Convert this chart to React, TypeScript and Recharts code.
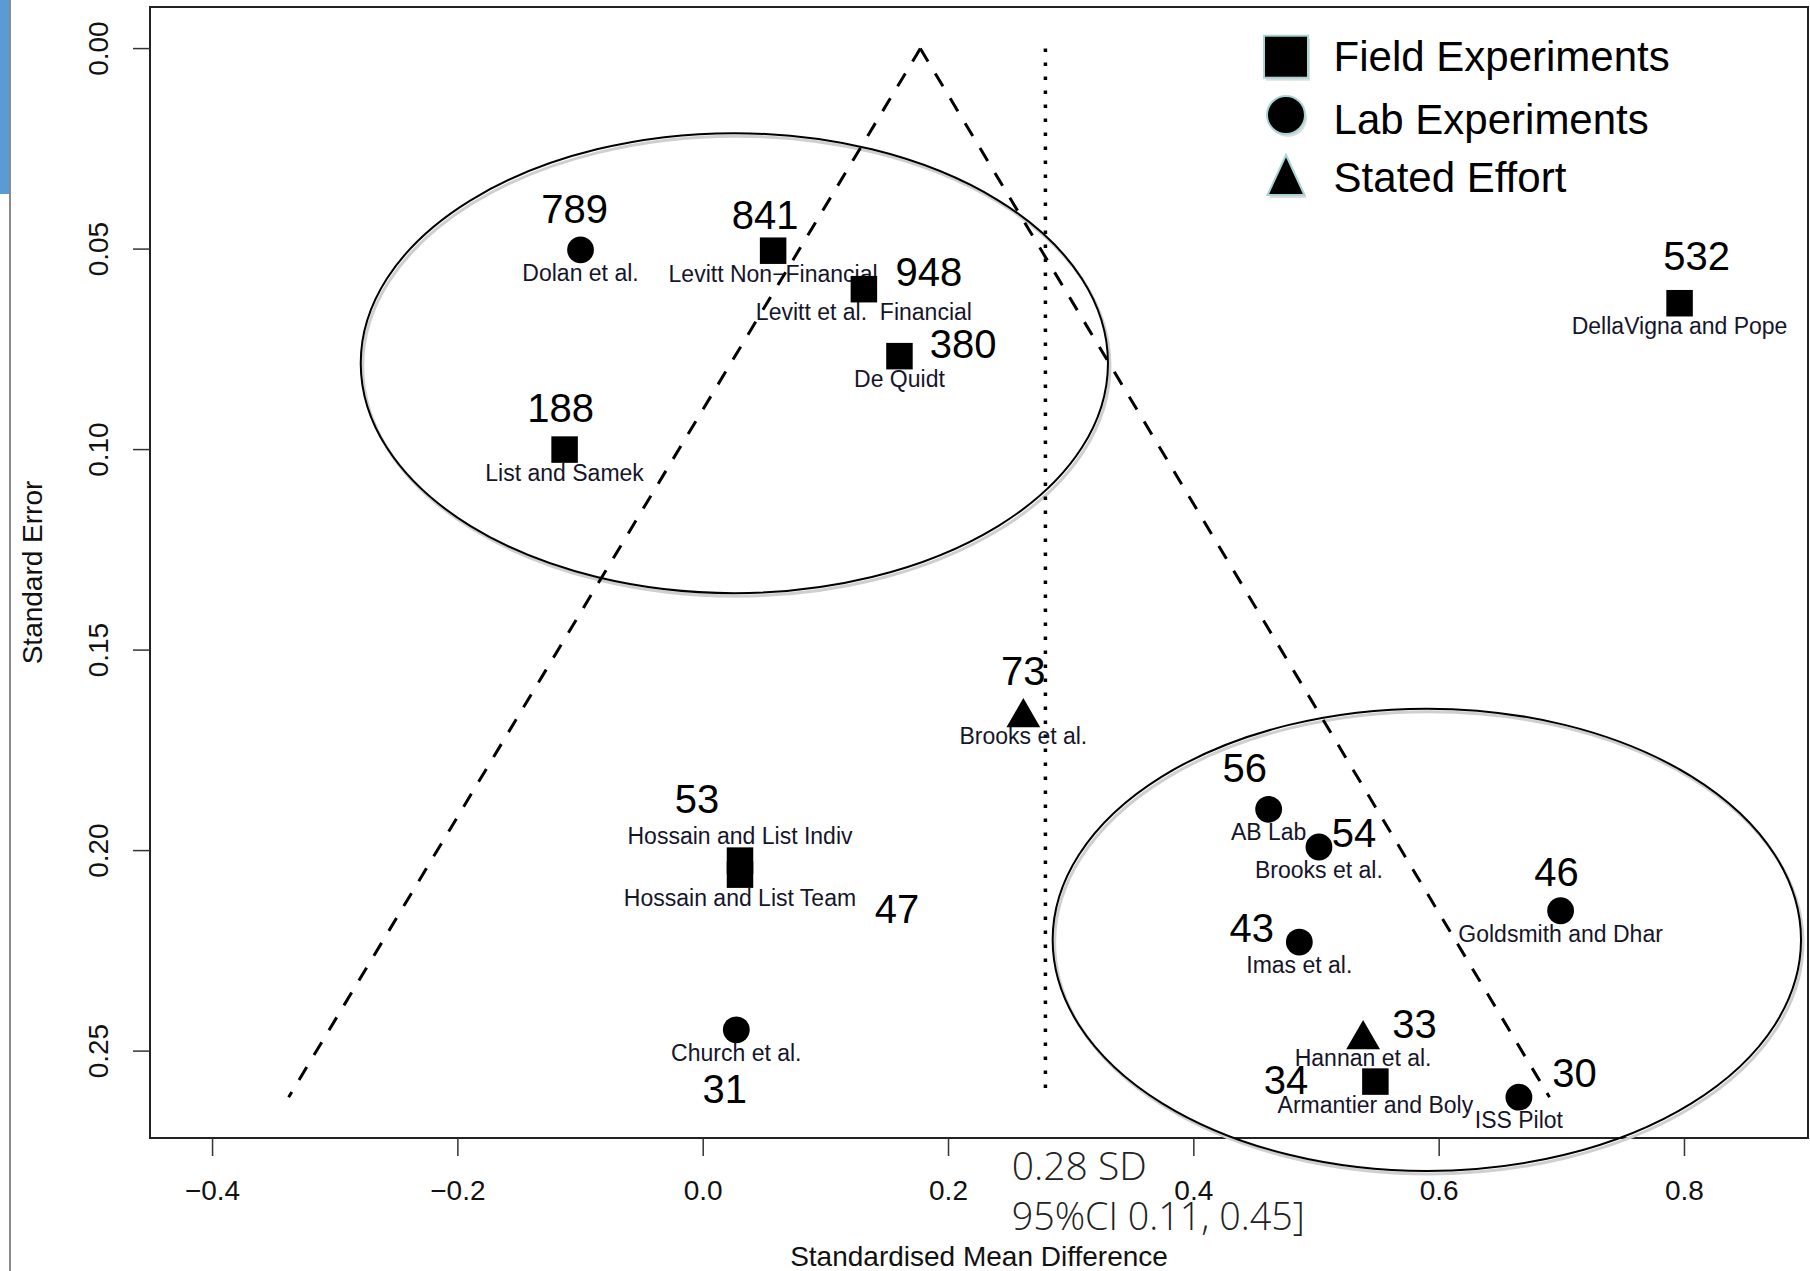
import React from "react";
import { ScatterChart, Scatter, XAxis, YAxis, ReferenceLine, ReferenceArea } from "recharts";

// ---------- data ----------
const studies = [
  "Dolan et al.",
  "Levitt Non\u2212Financial",
  "Levitt et al.  Financial",
  "De Quidt",
  "List and Samek",
  "DellaVigna and Pope",
  "Brooks et al.",
  "Hossain and List Indiv",
  "Hossain and List Team",
  "Church et al.",
  "AB Lab",
  "Brooks et al.",
  "Goldsmith and Dhar",
  "Imas et al.",
  "Hannan et al.",
  "Armantier and Boly",
  "ISS Pilot",
];
const designType = [
  "lab", "field", "field", "field", "field", "field", "stated", "field", "field",
  "lab", "lab", "lab", "lab", "lab", "stated", "field", "lab",
];
const smd = [
  -0.100, 0.057, 0.131, 0.160, -0.113, 0.796, 0.261, 0.030, 0.030,
  0.027, 0.461, 0.502, 0.699, 0.486, 0.538, 0.548, 0.665,
];
const stdErr = [
  0.0502, 0.0504, 0.0600, 0.0767, 0.1000, 0.0635, 0.1656, 0.2025, 0.2060,
  0.2447, 0.1897, 0.1991, 0.2150, 0.2228, 0.2459, 0.2576, 0.2615,
];
const sampleSize = [789, 841, 948, 380, 188, 532, 73, 53, 47, 31, 56, 54, 46, 43, 33, 34, 30];

const xTicks = [-0.4, -0.2, 0.0, 0.2, 0.4, 0.6, 0.8];
const yTicks = [0.0, 0.05, 0.1, 0.15, 0.2, 0.25];

// funnel (dashed) and pooled estimate (dotted)
const funnelApex = { x: 0.177, y: 0 };
const funnelLeft = { x: -0.338, y: 0.2615 };
const funnelRight = { x: 0.690, y: 0.2615 };
const pooledEstimate = 0.279;
const pooledMaxSE = 0.2615;

// highlight ellipses (bounding boxes in data units)
const ellipseX1 = [-0.2792, 0.2849];
const ellipseX2 = [0.3300, 0.8950];
const ellipseY1 = [0.0211, 0.1646];
const ellipseY2 = [0.1358, 0.2799];

// ---------- layout / style (kept apart from data) ----------
const labelSide = [
  "below", "below", "below", "below", "below", "below", "below", "above", "below",
  "below", "below", "below", "below", "below", "below", "below", "below",
];
const nLabelOffset: [number, number][] = [
  [-6, -27], [-8, -21.5], [65, -3], [63.6, 1.4], [-4, -28], [17, -33], [0, -27.5],
  [-43, -47.3], [157, 48.3], [-11.5, 72.7], [-24, -27.5], [35, 0], [-4, -25],
  [-47.5, 0], [51.4, 3.6], [-89.3, 12.3], [55.6, -10.5],
];

const W = 1810;
const H = 1271;
const MARGIN = { top: 7, right: 2, bottom: 73, left: 0 };
const Y_AXIS_W = 150;
const X_AXIS_H = 60;
const PLOT_BOTTOM = H - MARGIN.bottom - X_AXIS_H;
const PLOT_TOP = MARGIN.top;
const PLOT_LEFT = MARGIN.left + Y_AXIS_W;
const PLOT_RIGHT = W - MARGIN.right;
const FONT = "'Liberation Sans', Arial, Helvetica, sans-serif";

const X_DOMAIN: [number, number] = [-0.451, 0.9007];
const Y_DOMAIN: [number, number] = [-0.01037, 0.27167];

const points = studies.map((s, i) => ({
  x: smd[i],
  y: stdErr[i],
  study: s,
  type: designType[i],
  n: sampleSize[i],
  side: labelSide[i],
  ndx: nLabelOffset[i][0],
  ndy: nLabelOffset[i][1],
}));
const fieldPts = points.filter((p) => p.type === "field");
const labPts = points.filter((p) => p.type === "lab");
const statedPts = points.filter((p) => p.type === "stated");

const SQ = 26.5;
const SquareShape = (props: any) => {
  const { cx, cy } = props;
  return <rect x={cx - SQ / 2} y={cy - SQ / 2} width={SQ} height={SQ} fill="#000" />;
};
const CircleShape = (props: any) => {
  const { cx, cy } = props;
  return <circle cx={cx} cy={cy} r={13.4} fill="#000" />;
};
const TriangleShape = (props: any) => {
  const { cx, cy } = props;
  const hw = 16.9;
  const hh = 14.6;
  return (
    <polygon
      points={`${cx},${cy - hh} ${cx - hw},${cy + hh} ${cx + hw},${cy + hh}`}
      fill="#000"
    />
  );
};
const StudyLabel = (props: any) => {
  const { cx, cy, payload } = props;
  const dy = payload.side === "above" ? -17 : 31;
  return (
    <text
      x={cx}
      y={cy + dy}
      textAnchor="middle"
      fontFamily={FONT}
      fontSize={23}
      fill="#15152a"
      style={{ whiteSpace: "pre" }}
    >
      {payload.study}
    </text>
  );
};
const NumberLabel = (props: any) => {
  const { cx, cy, payload } = props;
  return (
    <text x={cx + payload.ndx} y={cy + payload.ndy} textAnchor="middle" fontFamily={FONT} fontSize={40} fill="#000">
      {payload.n}
    </text>
  );
};

const fmtX = (v: number) => (v < 0 ? "\u2212" + Math.abs(v).toFixed(1) : v.toFixed(1));
const XTick = (props: any) => {
  const { x, payload } = props;
  return (
    <text x={x} y={PLOT_BOTTOM + 62} textAnchor="middle" fontFamily={FONT} fontSize={28} fill="#111">
      {fmtX(payload.value)}
    </text>
  );
};
const YTick = (props: any) => {
  const { y, payload } = props;
  const bx = 108.3;
  return (
    <text
      x={bx}
      y={y}
      transform={`rotate(-90 ${bx} ${y})`}
      textAnchor="middle"
      fontFamily={FONT}
      fontSize={28}
      fill="#111"
    >
      {payload.value.toFixed(2)}
    </text>
  );
};

const EllipseShape = (props: any) => {
  const { x, y, width, height } = props;
  const cx = x + width / 2;
  const cy = y + height / 2;
  return (
    <g>
      <ellipse cx={cx + 2} cy={cy + 3} rx={width / 2} ry={height / 2} fill="none" stroke="#cfcfcf" strokeWidth={3} />
      <ellipse cx={cx} cy={cy} rx={width / 2} ry={height / 2} fill="none" stroke="#000" strokeWidth={2} />
    </g>
  );
};

const legendItems = [
  { label: "Field Experiments", kind: "field", cy: 56.7, base: 70.5 },
  { label: "Lab Experiments", kind: "lab", cy: 115, base: 133.5 },
  { label: "Stated Effort", kind: "stated", cy: 175, base: 191.7 },
];

const LegendMarker = ({ kind, cx, cy }: { kind: string; cx: number; cy: number }) => {
  const common = { fill: "#000", stroke: "#a9d4d6", strokeWidth: 2 };
  if (kind === "field")
    return (
      <g>
        <rect x={cx - 22 + 2} y={cy - 21 + 3} width={44} height={42} fill="#bbb" opacity={0.5} />
        <rect x={cx - 22} y={cy - 21} width={44} height={42} {...common} />
      </g>
    );
  if (kind === "lab")
    return (
      <g>
        <circle cx={cx + 2} cy={cy + 3} r={19} fill="#bbb" opacity={0.5} />
        <circle cx={cx} cy={cy} r={19} {...common} />
      </g>
    );
  return (
    <g>
      <polygon points={`${cx + 2},${cy - 20 + 3} ${cx - 18.5 + 2},${cy + 20 + 3} ${cx + 18.5 + 2},${cy + 20 + 3}`} fill="#bbb" opacity={0.5} />
      <polygon points={`${cx},${cy - 20} ${cx - 18.5},${cy + 20} ${cx + 18.5},${cy + 20}`} {...common} />
    </g>
  );
};

export default function App() {
  return (
    <div style={{ position: "absolute", left: 0, top: 0, width: W, height: H, background: "#fff" }}>
      <ScatterChart width={W} height={H} margin={MARGIN}>
        <XAxis
          dataKey="x"
          type="number"
          domain={X_DOMAIN}
          ticks={xTicks}
          axisLine={false}
          tickLine={{ stroke: "#333", strokeWidth: 1.5 }}
          tickSize={18}
          tick={XTick}
          height={X_AXIS_H}
          interval={0}
        />
        <YAxis
          dataKey="y"
          type="number"
          domain={Y_DOMAIN}
          ticks={yTicks}
          reversed
          axisLine={false}
          tickLine={{ stroke: "#333", strokeWidth: 1.5 }}
          tickSize={17}
          tick={YTick}
          width={Y_AXIS_W}
          interval={0}
        />
        <ReferenceArea
          x1={X_DOMAIN[0]}
          x2={X_DOMAIN[1]}
          y1={Y_DOMAIN[0]}
          y2={Y_DOMAIN[1]}
          ifOverflow="visible"
          fill="none"
          fillOpacity={0}
          stroke="#222"
          strokeWidth={2}
        />
        {ellipseX1.map((x1, i) => (
          <ReferenceArea
            key={"ell" + i}
            x1={x1}
            x2={ellipseX2[i]}
            y1={ellipseY1[i]}
            y2={ellipseY2[i]}
            ifOverflow="visible"
            shape={EllipseShape}
          />
        ))}
        <Scatter data={points} shape={StudyLabel} isAnimationActive={false} />
        <ReferenceLine
          segment={[funnelApex, funnelLeft]}
          stroke="#000"
          strokeWidth={3}
          strokeDasharray="15 14"
          ifOverflow="visible"
        />
        <ReferenceLine
          segment={[funnelApex, funnelRight]}
          stroke="#000"
          strokeWidth={3}
          strokeDasharray="15 14"
          ifOverflow="visible"
        />
        <ReferenceLine
          segment={[
            { x: pooledEstimate, y: 0 },
            { x: pooledEstimate, y: pooledMaxSE },
          ]}
          stroke="#000"
          strokeWidth={3.5}
          strokeDasharray="3.5 10.5"
          ifOverflow="visible"
        />
        <Scatter data={fieldPts} shape={SquareShape} isAnimationActive={false} />
        <Scatter data={labPts} shape={CircleShape} isAnimationActive={false} />
        <Scatter data={statedPts} shape={TriangleShape} isAnimationActive={false} />
        <Scatter data={points} shape={NumberLabel} isAnimationActive={false} />
      </ScatterChart>
      <svg
        width={W}
        height={H}
        style={{ position: "absolute", left: 0, top: 0, pointerEvents: "none" }}
      >
        <rect x={0} y={0} width={9} height={194} fill="#5b9bd5" />
        <line x1={10} y1={0} x2={10} y2={H} stroke="#8a8a8a" strokeWidth={2} />
        <text
          x={41.7}
          y={(PLOT_TOP + PLOT_BOTTOM) / 2}
          transform={`rotate(-90 41.7 ${(PLOT_TOP + PLOT_BOTTOM) / 2})`}
          textAnchor="middle"
          fontFamily={FONT}
          fontSize={28}
          fill="#111"
        >
          Standard Error
        </text>
        <text
          x={(PLOT_LEFT + PLOT_RIGHT) / 2}
          y={1266}
          textAnchor="middle"
          fontFamily={FONT}
          fontSize={28}
          fill="#111"
        >
          Standardised Mean Difference
        </text>
        <text
          x={1011.7}
          y={1180}
          fontFamily="'Open Sans', 'Noto Sans', sans-serif"
          fontWeight={300}
          fontSize={39}
          fill="#222"
          textLength={135}
          lengthAdjust="spacingAndGlyphs"
        >
          0.28 SD
        </text>
        <text
          x={1011.7}
          y={1230}
          fontFamily="'Open Sans', 'Noto Sans', sans-serif"
          fontWeight={300}
          fontSize={39}
          fill="#222"
          textLength={293}
          lengthAdjust="spacingAndGlyphs"
        >
          95%CI 0.11, 0.45]
        </text>
        {legendItems.map((it) => (
          <g key={it.label}>
            <LegendMarker kind={it.kind} cx={1286} cy={it.cy} />
            <text x={1333.6} y={it.base} fontFamily={FONT} fontSize={42} fill="#000">
              {it.label}
            </text>
          </g>
        ))}
      </svg>
    </div>
  );
}
